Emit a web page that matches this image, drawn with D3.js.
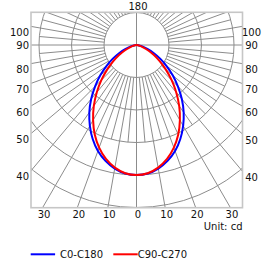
<!DOCTYPE html>
<html>
<head>
<meta charset="utf-8">
<script src="https://cdn.jsdelivr.net/npm/d3@7"></script>
<style>
  body { margin: 0; background: #fff; }
  svg { display: block; font-family: "DejaVu Sans", Verdana, sans-serif; }
  .grid { fill: none; stroke: #8c8c8c; stroke-width: 1; }
  .lbl { font-size: 10px; fill: #111; }
</style>
</head>
<body>
<div id="chart"></div>
<script>
// luminous intensity (cd), every 5 deg from nadir
const gammaAngles = [0, 5, 10, 15, 20, 25, 30, 35, 40, 45, 50, 55, 60, 65, 70, 75, 80, 85, 90];
const c0c180 = [400, 397, 386, 369, 347, 319, 287, 253, 217, 180, 146, 113, 84, 58, 37, 20, 8, 2, 0];
const c90c270 = [400, 396, 383, 363, 336, 304, 267, 229, 190, 153, 118, 87, 62, 40, 23, 11, 4, 1, 0];

const ringValues = [100, 200, 300, 400, 500, 600];
const sideTickAngles = [40, 50, 60, 70, 80, 90, 100];
const bottomTickAngles = [0, 10, 20, 30];
const topTickAngles = [180];
const seriesNames = ["C0-C180", "C90-C270"];
const seriesColors = ["#0000ff", "#ff0000"];

const W = 275, H = 266;
const box = { x0: 31, x1: 242.5, y0: 12.3, y1: 207.7 };
const cx = 136.5, cy = 45;

const svg = d3.select("#chart").append("svg")
    .attr("width", W)
    .attr("height", H);

// scales
const rScale = d3.scaleLinear().domain([0, 500]).range([0, 162.5]);
const aScale = d3.scaleLinear().domain([0, 180]).range([0, Math.PI]);

// gamma measured from nadir, side -1 = left, +1 = right
function pt(g, r, side) {
    let a = aScale(g);
    return [cx + side * r * Math.sin(a), cy + r * Math.cos(a)];
}

svg.append("clipPath").attr("id", "boxclip")
    .append("rect")
    .attr("x", box.x0).attr("y", box.y0)
    .attr("width", box.x1 - box.x0).attr("height", box.y1 - box.y0);

let grid = svg.append("g").attr("clip-path", "url(#boxclip)");

// rings
grid.selectAll(".ring")
    .data(ringValues)
    .enter().append("circle")
    .attr("class", "grid ring")
    .attr("cx", cx).attr("cy", cy)
    .attr("r", d => rScale(d));

// radial lines: every 5 deg from the first to the third ring, every 10 deg to the frame
let spokes = [];
for (let g = 0; g <= 180; g += 5) {
    let sides = (g === 0 || g === 180) ? [1] : [-1, 1];
    sides.forEach(s => spokes.push({ g: g, side: s }));
}
const spokeStart = d => (d.g % 90 === 0) ? 0 : rScale(100);
const spokeEnd = d => (d.g % 10 === 0) ? 400 : rScale(300);
grid.selectAll(".spoke")
    .data(spokes)
    .enter().append("line")
    .attr("class", "grid spoke")
    .attr("x1", d => pt(d.g, spokeStart(d), d.side)[0])
    .attr("y1", d => pt(d.g, spokeStart(d), d.side)[1])
    .attr("x2", d => pt(d.g, spokeEnd(d), d.side)[0])
    .attr("y2", d => pt(d.g, spokeEnd(d), d.side)[1]);

// frame
svg.append("rect")
    .attr("x", box.x0).attr("y", box.y0)
    .attr("width", box.x1 - box.x0).attr("height", box.y1 - box.y0)
    .attr("fill", "none")
    .attr("stroke", "#c6c6c6")
    .attr("stroke-width", 1.6);

// curves
const curveLine = d3.line().curve(d3.curveCatmullRom.alpha(0.5));
[c0c180, c90c270].forEach((vals, i) => {
    let pts = [];
    for (let k = gammaAngles.length - 1; k >= 0; k--) pts.push(pt(gammaAngles[k], rScale(vals[k]), -1));
    for (let k = 1; k < gammaAngles.length; k++) pts.push(pt(gammaAngles[k], rScale(vals[k]), 1));
    svg.append("path")
        .attr("d", curveLine(pts))
        .attr("fill", "none")
        .attr("stroke", seriesColors[i])
        .attr("stroke-width", 2);
});

// side labels (angle where the spoke meets the frame)
sideTickAngles.forEach(g => {
    let a = aScale(g);
    let yl = cy + (cx - box.x0) / Math.sin(a) * Math.cos(a);
    let yr = cy + (box.x1 - cx) / Math.sin(a) * Math.cos(a);
    let off = g === 90 ? 0 : 6.2;
    svg.append("text").attr("class", "lbl")
        .attr("x", box.x0 - 2).attr("y", yl + off)
        .attr("dy", "0.35em").attr("text-anchor", "end")
        .text(g);
    svg.append("text").attr("class", "lbl")
        .attr("x", box.x1 + 9).attr("y", yr + off)
        .attr("dy", "0.35em").attr("text-anchor", "middle")
        .text(g);
});

// bottom labels
bottomTickAngles.forEach(g => {
    let a = aScale(g);
    let dx = (box.y1 - cy) * Math.tan(a);
    let sides = g === 0 ? [1] : [-1, 1];
    sides.forEach(s => {
        svg.append("text").attr("class", "lbl")
            .attr("x", cx + s * dx + 1.5).attr("y", box.y1 + 6.5)
            .attr("dy", "0.35em").attr("text-anchor", "middle")
            .text(g);
    });
});

// top label
topTickAngles.forEach(g => {
    svg.append("text").attr("class", "lbl")
        .attr("x", cx + 1.5).attr("y", box.y0 - 5.5)
        .attr("dy", "0.35em").attr("text-anchor", "middle")
        .text(g);
});

svg.append("text").attr("class", "lbl")
    .attr("x", box.x1).attr("y", 229.5)
    .attr("text-anchor", "end")
    .text("Unit: cd");

// legend
const legendX = [30.7, 113.3];
seriesNames.forEach((name, i) => {
    let g = svg.append("g").attr("transform", "translate(" + legendX[i] + ",254.3)");
    g.append("line")
        .attr("x1", 0).attr("x2", 24.4)
        .attr("stroke", seriesColors[i])
        .attr("stroke-width", 2);
    g.append("text").attr("class", "lbl")
        .attr("x", i === 0 ? 29.3 : 24.4).attr("y", 0)
        .attr("dy", "0.35em")
        .text(name);
});
</script>
</body>
</html>
